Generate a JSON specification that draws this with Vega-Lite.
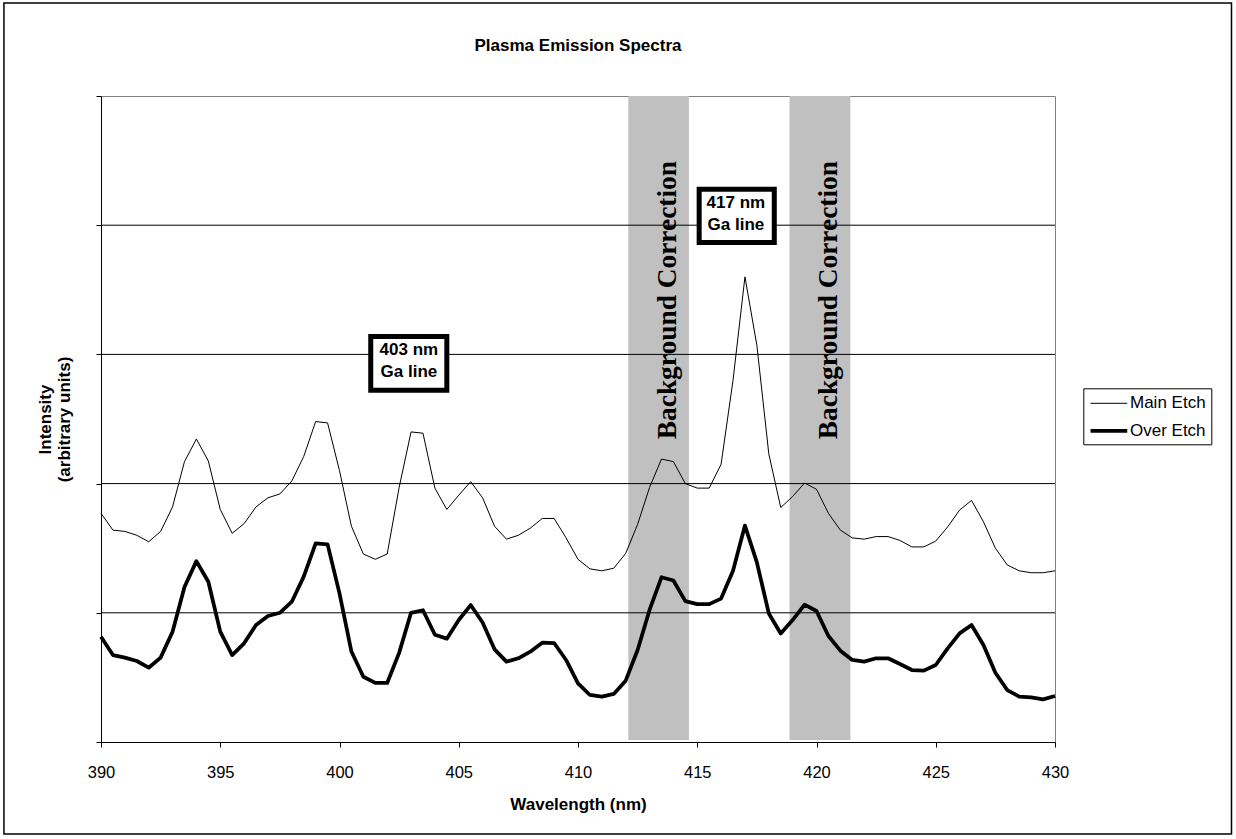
{
  "$schema": "https://vega.github.io/schema/vega-lite/v6.json",
  "width": 954,
  "height": 646,
  "autosize": {"type": "none"},
  "padding": {"left": 101, "top": 96, "right": 181, "bottom": 97},
  "background": "white",
  "title": {"text": "Plasma Emission Spectra", "font": "Liberation Sans", "fontSize": 17, "fontWeight": "bold", "color": "black", "anchor": "middle", "frame": "group", "baseline": "middle", "offset": 0, "dy": 61},
  "datasets": {
    "spectra": [
      {"wl": 390, "Main Etch": 1.77, "Over Etch": 0.815},
      {"wl": 390.5, "Main Etch": 1.64, "Over Etch": 0.673},
      {"wl": 391, "Main Etch": 1.63, "Over Etch": 0.653},
      {"wl": 391.5, "Main Etch": 1.6, "Over Etch": 0.627},
      {"wl": 392, "Main Etch": 1.55, "Over Etch": 0.575},
      {"wl": 392.5, "Main Etch": 1.63, "Over Etch": 0.653},
      {"wl": 393, "Main Etch": 1.82, "Over Etch": 0.854},
      {"wl": 393.5, "Main Etch": 2.17, "Over Etch": 1.2},
      {"wl": 394, "Main Etch": 2.345, "Over Etch": 1.4},
      {"wl": 394.5, "Main Etch": 2.175, "Over Etch": 1.24},
      {"wl": 395, "Main Etch": 1.8, "Over Etch": 0.854},
      {"wl": 395.5, "Main Etch": 1.615, "Over Etch": 0.673},
      {"wl": 396, "Main Etch": 1.69, "Over Etch": 0.764},
      {"wl": 396.5, "Main Etch": 1.82, "Over Etch": 0.906},
      {"wl": 397, "Main Etch": 1.89, "Over Etch": 0.975},
      {"wl": 397.5, "Main Etch": 1.92, "Over Etch": 1.0},
      {"wl": 398, "Main Etch": 2.02, "Over Etch": 1.086},
      {"wl": 398.5, "Main Etch": 2.21, "Over Etch": 1.28},
      {"wl": 399, "Main Etch": 2.48, "Over Etch": 1.538},
      {"wl": 399.5, "Main Etch": 2.47, "Over Etch": 1.53},
      {"wl": 400, "Main Etch": 2.1, "Over Etch": 1.15},
      {"wl": 400.5, "Main Etch": 1.67, "Over Etch": 0.7},
      {"wl": 401, "Main Etch": 1.455, "Over Etch": 0.505},
      {"wl": 401.5, "Main Etch": 1.414, "Over Etch": 0.457},
      {"wl": 402, "Main Etch": 1.455, "Over Etch": 0.457},
      {"wl": 402.5, "Main Etch": 1.97, "Over Etch": 0.69},
      {"wl": 403, "Main Etch": 2.4, "Over Etch": 1.0},
      {"wl": 403.5, "Main Etch": 2.39, "Over Etch": 1.02},
      {"wl": 404, "Main Etch": 1.965, "Over Etch": 0.83},
      {"wl": 404.5, "Main Etch": 1.8, "Over Etch": 0.8},
      {"wl": 405, "Main Etch": 1.91, "Over Etch": 0.944},
      {"wl": 405.5, "Main Etch": 2.015, "Over Etch": 1.06},
      {"wl": 406, "Main Etch": 1.89, "Over Etch": 0.925},
      {"wl": 406.5, "Main Etch": 1.67, "Over Etch": 0.717},
      {"wl": 407, "Main Etch": 1.57, "Over Etch": 0.622},
      {"wl": 407.5, "Main Etch": 1.6, "Over Etch": 0.648},
      {"wl": 408, "Main Etch": 1.655, "Over Etch": 0.699},
      {"wl": 408.5, "Main Etch": 1.73, "Over Etch": 0.769},
      {"wl": 409, "Main Etch": 1.73, "Over Etch": 0.766},
      {"wl": 409.5, "Main Etch": 1.58, "Over Etch": 0.635},
      {"wl": 410, "Main Etch": 1.414, "Over Etch": 0.454},
      {"wl": 410.5, "Main Etch": 1.34, "Over Etch": 0.364},
      {"wl": 411, "Main Etch": 1.325, "Over Etch": 0.351},
      {"wl": 411.5, "Main Etch": 1.345, "Over Etch": 0.372},
      {"wl": 412, "Main Etch": 1.46, "Over Etch": 0.475},
      {"wl": 412.5, "Main Etch": 1.685, "Over Etch": 0.712},
      {"wl": 413, "Main Etch": 1.97, "Over Etch": 1.022},
      {"wl": 413.5, "Main Etch": 2.19, "Over Etch": 1.275},
      {"wl": 414, "Main Etch": 2.17, "Over Etch": 1.25},
      {"wl": 414.5, "Main Etch": 2.0, "Over Etch": 1.09},
      {"wl": 415, "Main Etch": 1.965, "Over Etch": 1.067},
      {"wl": 415.5, "Main Etch": 1.965, "Over Etch": 1.067},
      {"wl": 416, "Main Etch": 2.15, "Over Etch": 1.11},
      {"wl": 416.5, "Main Etch": 2.8, "Over Etch": 1.325},
      {"wl": 417, "Main Etch": 3.6, "Over Etch": 1.675},
      {"wl": 417.5, "Main Etch": 3.07, "Over Etch": 1.39},
      {"wl": 418, "Main Etch": 2.23, "Over Etch": 0.995},
      {"wl": 418.5, "Main Etch": 1.815, "Over Etch": 0.84},
      {"wl": 419, "Main Etch": 1.9, "Over Etch": 0.944},
      {"wl": 419.5, "Main Etch": 2.005, "Over Etch": 1.063},
      {"wl": 420, "Main Etch": 1.956, "Over Etch": 1.014},
      {"wl": 420.5, "Main Etch": 1.77, "Over Etch": 0.82},
      {"wl": 421, "Main Etch": 1.64, "Over Etch": 0.707},
      {"wl": 421.5, "Main Etch": 1.58, "Over Etch": 0.635},
      {"wl": 422, "Main Etch": 1.57, "Over Etch": 0.622},
      {"wl": 422.5, "Main Etch": 1.59, "Over Etch": 0.648},
      {"wl": 423, "Main Etch": 1.59, "Over Etch": 0.648},
      {"wl": 423.5, "Main Etch": 1.56, "Over Etch": 0.604},
      {"wl": 424, "Main Etch": 1.51, "Over Etch": 0.557},
      {"wl": 424.5, "Main Etch": 1.51, "Over Etch": 0.552},
      {"wl": 425, "Main Etch": 1.555, "Over Etch": 0.596},
      {"wl": 425.5, "Main Etch": 1.665, "Over Etch": 0.725},
      {"wl": 426, "Main Etch": 1.795, "Over Etch": 0.841},
      {"wl": 426.5, "Main Etch": 1.87, "Over Etch": 0.906},
      {"wl": 427, "Main Etch": 1.705, "Over Etch": 0.751},
      {"wl": 427.5, "Main Etch": 1.5, "Over Etch": 0.536},
      {"wl": 428, "Main Etch": 1.37, "Over Etch": 0.402},
      {"wl": 428.5, "Main Etch": 1.325, "Over Etch": 0.351},
      {"wl": 429, "Main Etch": 1.31, "Over Etch": 0.346},
      {"wl": 429.5, "Main Etch": 1.31, "Over Etch": 0.33},
      {"wl": 430, "Main Etch": 1.325, "Over Etch": 0.356}
    ],
    "frame": [{"x0": 385.93, "x1": 437.4, "y0": -0.712, "y1": 5.72}],
    "bands": [
      {"x0": 412.11, "x1": 414.65, "tx": 413.77, "ty": 3.42, "label": "Background Correction"},
      {"x0": 418.87, "x1": 421.42, "tx": 420.52, "ty": 3.42, "label": "Background Correction"}
    ],
    "grid": [{"g": 1}, {"g": 2}, {"g": 3}, {"g": 4}],
    "boxes": [
      {"x0": 401.31, "x1": 404.5, "y0": 2.723, "y1": 3.139, "tx": 402.91, "ty": 3.034, "label": "403 nm\nGa line"},
      {"x0": 415.08, "x1": 418.23, "y0": 3.866, "y1": 4.279, "tx": 416.62, "ty": 4.174, "label": "417 nm\nGa line"}
    ]
  },
  "layer": [
    {
      "data": {"name": "spectra"},
      "transform": [{"fold": ["Main Etch", "Over Etch"], "as": ["series", "val"]}],
      "mark": {"type": "line", "color": "black", "strokeJoin": "round", "opacity": 0},
      "encoding": {
        "x": {
          "field": "wl", "type": "quantitative",
          "scale": {"domain": [390, 430], "nice": false, "zero": false},
          "axis": {
            "values": [390, 395, 400, 405, 410, 415, 420, 425, 430],
            "format": "d",
            "grid": false,
            "labelFlush": false,
            "domainColor": "black", "tickColor": "black", "tickSize": 5,
            "labelFont": "Liberation Sans", "labelFontSize": 16.5, "labelColor": "black", "labelPadding": 17.7,
            "title": "Wavelength (nm)",
            "titleFont": "Liberation Sans", "titleFontSize": 17, "titleFontWeight": "bold", "titleColor": "black",
            "titleBaseline": "middle", "titleY": 62
          }
        },
        "y": {
          "field": "val", "type": "quantitative",
          "scale": {"domain": [0, 5], "nice": false, "zero": false},
          "axis": {
            "values": [0, 1, 2, 3, 4, 5],
            "labels": false,
            "grid": false,
            "domainColor": "black", "tickColor": "black", "tickSize": 5,
            "title": ["Intensity", "(arbitrary units)"],
            "titleFont": "Liberation Sans", "titleFontSize": 17, "titleFontWeight": "bold", "titleColor": "black",
            "titleAngle": 270, "titleAlign": "center", "titleBaseline": "middle",
            "titleLineHeight": 19, "titleX": -56, "titleY": 323
          }
        },
        "detail": {"field": "series"}
      }
    },
    {
      "data": {"name": "frame"},
      "mark": {"type": "rect", "fill": "transparent", "stroke": "black", "strokeWidth": 1.5, "clip": false},
      "encoding": {
        "x": {"field": "x0", "type": "quantitative"},
        "x2": {"field": "x1"},
        "y": {"field": "y0", "type": "quantitative"},
        "y2": {"field": "y1"}
      }
    },
    {
      "data": {"name": "bands"},
      "mark": {"type": "rect", "fill": "#C0C0C0"},
      "encoding": {
        "x": {"field": "x0", "type": "quantitative"},
        "x2": {"field": "x1"},
        "y": {"datum": 0.015, "type": "quantitative"},
        "y2": {"datum": 5}
      }
    },
    {
      "data": {"name": "grid"},
      "mark": {"type": "rule", "color": "black", "strokeWidth": 1},
      "encoding": {
        "y": {"field": "g", "type": "quantitative"}
      }
    },
    {
      "data": {"name": "bands"},
      "mark": {"type": "text", "angle": 270, "font": "Liberation Serif", "fontSize": 27.4, "fontWeight": "bold", "color": "black", "align": "center", "baseline": "middle"},
      "encoding": {
        "x": {"field": "tx", "type": "quantitative"},
        "y": {"field": "ty", "type": "quantitative"},
        "text": {"field": "label"}
      }
    },
    {
      "data": {"name": "spectra"},
      "transform": [{"fold": ["Main Etch", "Over Etch"], "as": ["series", "val"]}],
      "mark": {"type": "line", "color": "black", "strokeJoin": "round"},
      "encoding": {
        "x": {"field": "wl", "type": "quantitative"},
        "y": {"field": "val", "type": "quantitative"},
        "strokeWidth": {
          "field": "series", "type": "ordinal",
          "scale": {"domain": ["Main Etch", "Over Etch"], "range": [1, 3.75]},
          "legend": {
            "orient": "none", "legendX": 982.3, "legendY": 292.3,
            "title": null,
            "symbolType": "M-1.03,0H3.05", "symbolSize": 324, "symbolStrokeColor": "black",
            "labelFont": "Liberation Sans", "labelFontSize": 17, "labelColor": "black",
            "labelOffset": 19.2, "rowPadding": 8, "padding": 5.5,
            "strokeColor": "black", "fillColor": "white"
          }
        }
      }
    },
    {
      "data": {"name": "boxes"},
      "mark": {"type": "rect", "fill": "white", "stroke": "black", "strokeWidth": 5},
      "encoding": {
        "x": {"field": "x0", "type": "quantitative"},
        "x2": {"field": "x1"},
        "y": {"field": "y0", "type": "quantitative"},
        "y2": {"field": "y1"}
      }
    },
    {
      "data": {"name": "boxes"},
      "mark": {"type": "text", "font": "Liberation Sans", "fontSize": 17, "fontWeight": "bold", "color": "black", "align": "center", "baseline": "middle", "lineBreak": "\n", "lineHeight": 22},
      "encoding": {
        "x": {"field": "tx", "type": "quantitative"},
        "y": {"field": "ty", "type": "quantitative"},
        "text": {"field": "label"}
      }
    }
  ],
  "config": {
    "view": {"stroke": "#808080", "strokeWidth": 1},
    "axis": {"labelFont": "Liberation Sans", "titleFont": "Liberation Sans"}
  }
}
